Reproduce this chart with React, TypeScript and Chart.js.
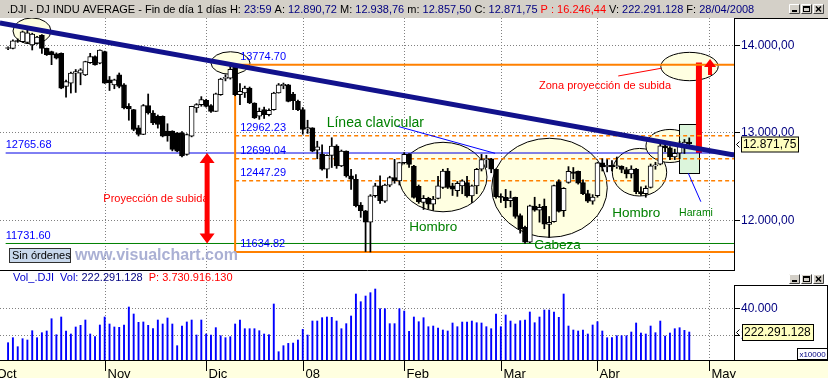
import React, { useEffect, useRef } from "react";
import { Chart, registerables } from "chart.js";

Chart.register(...registerables);

// ---------------- layout (pixels) ----------------
const W = 828;
const H = 378;
const AXIS_X = 734;
const TITLE_H = 18;
const PRICE_BOTTOM = 270;
const VOL_BOX_TOP = 285;
const PLOT_BOTTOM = 360;

// ---------------- scales ----------------
// x value = trading-day index (0 = 1 Nov 2007)
const FIRST_DAY = -20; // 4 Oct 2007
const X_MIN = -21.67;
const X_MAX = 130.26;
const PRICE_MIN = 10400;
const PRICE_MAX = 14308.57;
const VOL_MIN = 1273;
const VOL_MAX = 257450;

// ---------------- data: DJI daily, 4 Oct 2007 .. 28 Apr 2008 ----------------
const opens = [
  13960, 13962, 14045, 14038, 14030, 14000, 14020, 14110, 13962, 13924, 13898, 13905, 13526, 13564, 13678, 13678, 13659, 13799, 13867, 13792,
  13924, 13602, 13545, 13659, 13545, 13299, 13261, 13053, 12977, 13307, 13223, 13186, 13186, 13015, 13015, 12996, 12996, 12750, 12958, 13280, 13318,
  13367, 13307, 13242, 13432, 13618, 13621, 13754, 13432, 13451, 13508, 13337, 13186, 13261, 13205, 13261, 13451, 13535, 13545, 13440, 13356,
  13261, 13040, 13053, 12799, 12750, 12580, 12739, 12845, 12617, 12788, 12504, 12466, 12170, 12106, 11974, 12277, 12390, 12216, 12398, 12485, 12447,
  12655, 12750, 12617, 12385, 12201, 12248, 12182, 12246, 12371, 12560, 12390, 12335, 12390, 12428, 12276, 12390, 12580, 12690, 12700, 12580,
  12266, 12258, 12220, 12258, 12050, 11917, 11746, 12160, 12111, 12156, 11950, 11981, 12440, 12106, 12430, 12550, 12555, 12428, 12302, 12216,
  12277, 12654, 12608, 12626, 12610, 12612, 12577, 12527, 12581, 12325, 12302, 12371, 12619, 12637, 12849, 12825, 12720, 12763, 12848, 12890.72,
];
const highs = [
  13978, 14060, 14070, 14160, 14172, 14135, 14100, 14118, 13965, 13930, 13910, 13910, 13600, 13690, 13720, 13730, 13815, 13905, 13875, 13945,
  13930, 13640, 13610, 13680, 13560, 13330, 13265, 13080, 13320, 13440, 13250, 13200, 13190, 13100, 13020, 13000, 13010, 12985, 13300, 13330, 13410,
  13380, 13320, 13450, 13620, 13660, 13760, 13774.7, 13560, 13530, 13520, 13340, 13280, 13290, 13270, 13460, 13560, 13565, 13550, 13460, 13370,
  13285, 13140, 13055, 12900, 12860, 12745, 12940, 12860, 12800, 12790, 12580, 12520, 12200, 12110, 12290, 12420, 12504, 12410, 12500, 12693, 12660,
  12770, 12760, 12625, 12400, 12280, 12260, 12270, 12500, 12580, 12590, 12420, 12440, 12460, 12500, 12400, 12590, 12750, 12740, 12705, 12585,
  12300, 12350, 12330, 12262, 12070, 11930, 12170, 12260, 12180, 12240, 12040, 12400, 12460, 12370, 12610, 12600, 12560, 12460, 12340, 12290,
  12660, 12700, 12690, 12680, 12720, 12620, 12600, 12620, 12590, 12380, 12390, 12640, 12660, 12870, 12860, 12840, 12810, 12900, 12920, 12938.76,
];
const lows = [
  13948, 13955, 14030, 14030, 14015, 13943, 14010, 13905, 13880, 13775, 13840, 13500, 13405, 13451, 13458, 13545, 13650, 13790, 13770, 13785,
  13560, 13480, 13500, 13510, 13270, 13140, 13020, 12960, 12975, 13210, 13090, 13050, 12950, 12900, 12790, 12780, 12720, 12740, 12950, 13230, 13300,
  13290, 13230, 13240, 13425, 13590, 13610, 13420, 13318, 13400, 13330, 13160, 13150, 13160, 13190, 13255, 13450, 13500, 13350, 13260, 13250,
  12980, 12990, 12780, 12700, 12570, 12480, 12600, 12590, 12610, 12490, 12350, 12150, 12030, 11640, 11634.82, 12260, 12190, 12200, 12380, 12420, 12400,
  12640, 12600, 12250, 12190, 12120, 12130, 12110, 12240, 12360, 12360, 12280, 12270, 12300, 12260, 12200, 12300, 12560, 12600, 12540, 12250,
  12200, 12140, 12150, 12020, 11850, 11731.6, 11740, 12100, 11975, 11900, 11800, 11975, 12090, 12040, 12420, 12470, 12410, 12290, 12200, 12180,
  12260, 12560, 12550, 12560, 12590, 12540, 12480, 12480, 12300, 12280, 12260, 12365, 12580, 12630, 12780, 12690, 12690, 12700, 12760, 12857.5,
];
const closes = [
  13965, 14049, 14040, 14151, 14140, 14125, 14090, 13962, 13890, 13888, 13850, 13507, 13583, 13678, 13697, 13716, 13811, 13867, 13773, 13943,
  13564, 13570, 13602, 13526, 13280, 13269, 13034, 12977, 13307, 13223, 13110, 13091, 12958, 12960, 12807, 12788, 12731, 12977, 13299, 13318, 13375,
  13299, 13242, 13443, 13610, 13625, 13723, 13432, 13470, 13508, 13337, 13167, 13242, 13205, 13254, 13451, 13545, 13550, 13356, 13365, 13261,
  13034, 13057, 12788, 12837, 12580, 12739, 12845, 12617, 12788, 12504, 12466, 12163, 12106, 11974, 12277, 12390, 12220, 12398, 12485, 12447, 12655,
  12750, 12636, 12258, 12210, 12248, 12182, 12240, 12390, 12560, 12371, 12352, 12420, 12447, 12276, 12390, 12580, 12690, 12700, 12580, 12266,
  12258, 12220, 12254, 12040, 11898, 11746, 12163, 12111, 12146, 11951, 11972, 12392, 12099, 12361, 12555, 12533, 12422, 12302, 12216, 12263,
  12654, 12608, 12626, 12610, 12612, 12577, 12527, 12581, 12325, 12302, 12362, 12619, 12620, 12849, 12825, 12720, 12763, 12848, 12891, 12871.75,
];
// volume in units of 10 000 shares
const volumes = [
  14230, 17980, 11240, 17230, 16250, 23220, 17980, 21720, 23000, 32200, 20220, 33480, 23000, 20750, 26000, 27260, 31230, 20750, 18730, 27490,
  33480, 28240, 26000, 25750, 27490, 40970, 35730, 29510, 29760, 27260, 24720, 31230, 28240, 32730, 28240, 11980, 26760, 29760, 31230, 20000, 31230,
  20750, 20000, 25500, 19480, 17980, 18730, 28240, 31230, 24720, 24720, 24720, 23220, 20750, 20220, 43220, 7490, 11980, 13730, 13980, 16250,
  24220, 20000, 30480, 30480, 32980, 33480, 33230, 30480, 24720, 28490, 34230, 50700, 44940, 49200, 51700, 54440, 39700, 39700, 28490, 28490, 39700, 37950, 22720, 33480,
  29960, 32960, 26220, 26720, 25240, 23740, 23000, 28990, 26220, 29710, 29710, 30460, 29210, 28990, 26220, 24720, 35730, 26220, 35000, 30460,
  28240, 30710, 31210, 37230, 29210, 33480, 38730, 38730, 37230, 33230, 50700, 26720, 23740, 23000, 23740, 20750, 27490, 29960, 23000, 17980,
  17980, 19480, 19480, 19480, 22230, 28990, 21480, 20750, 26720, 21730, 30460, 19230, 21480, 24720, 25470, 23470, 22229.1128,
];

const monthLabels = ["Oct", "Nov", "Dic", "08", "Feb", "Mar", "Abr", "May"];
const monthTickDays = [-23, 0, 21, 41, 62, 82, 102, 125];
const priceTicks = [12000, 13000, 14000];
const volumeTicks = [20000, 40000];

// drawn study lines (day index, price)
const fibStartDay = 27;
const fibLevels = [13774.7, 12962.23, 12699.04, 12447.29, 11634.82];
const fibDashed = [false, true, true, true, false];
const supportStartDay = -20.5;
const supportLevels = [12765.68, 11731.6];
const supportColors = ["#0000e6", "#008000"];
const trendline = [{ x: -21.7, y: 14251 }, { x: 130.3, y: 12743 }];
const necklinePointer = [{ x: 60.44, y: 13074 }, { x: 80.8, y: 12762 }];
const haramiPointer = [{ x: 120.8, y: 12534 }, { x: 123.4, y: 12209 }];
const zonaPointer = [{ x: 106.3, y: 13646 }, { x: 115.2, y: 13734 }];

const ellipses = [
  { day: -15.05, price: 14160, rDays: 3.93, rPrice: 149 },
  { day: 26.04, price: 13794, rDays: 4.04, rPrice: 129 },
  { day: 70.03, price: 12491, rDays: 9.1, rPrice: 397 },
  { day: 92.07, price: 12368, rDays: 11.96, rPrice: 566 },
  { day: 110.7, price: 12546, rDays: 5.63, rPrice: 272 },
  { day: 117.0, price: 12846, rDays: 4.97, rPrice: 189 },
  { day: 121.05, price: 13754, rDays: 5.94, rPrice: 162 },
];
const haramiBox = { day0: 118.9, day1: 123.05, top: 13094, bottom: 12534 };
const projectionArrow = { day: 21.2, from: 11731.6, to: 12765.68 };
const targetBar = { day: 123.0, from: 12765.68, to: 13799.76 };
const targetArrow = { day: 125.3, from: 13657, to: 13840 };

const notes = [
  { text: "Línea clavicular", day: 45.95, price: 13109, color: "#008000", size: 14 },
  { text: "Hombro", day: 63.05, price: 11920, color: "#008000", size: 13.5 },
  { text: "Hombro", day: 105.07, price: 12080, color: "#008000", size: 13.5 },
  { text: "Cabeza", day: 88.93, price: 11706, color: "#008000", size: 13.5 },
  { text: "Harami", day: 118.9, price: 12080, color: "#008000", size: 10.5 },
  { text: "Proyección de subida", day: -0.28, price: 12240, color: "#ff0000", size: 11 },
  { text: "Zona proyección de subida", day: 89.9, price: 13531, color: "#ff0000", size: 11 },
];

const FONT = "'Liberation Sans', Arial, Helvetica, sans-serif";
const NAVY = "#000080";
const RED = "#ff0000";
const INK = "#000000";

function fmtNum(v: number, dec: number): string {
  const s = v.toFixed(dec);
  const [i, f] = s.split(".");
  const g = i.replace(/\B(?=(\d{3})+(?!\d))/g, ".");
  return f ? `${g},${f}` : g;
}

const days = opens.map((_, k) => FIRST_DAY + k);
const last = opens.length - 1;

function seg(ctx: any, x1: number, y1: number, x2: number, y2: number) {
  ctx.beginPath();
  ctx.moveTo(x1, y1);
  ctx.lineTo(x2, y2);
  ctx.stroke();
}
function txt(ctx: any, s: string, x: number, y: number, font: string, color: string, align = "left", baseline = "middle") {
  ctx.font = font;
  ctx.fillStyle = color;
  ctx.textAlign = align;
  ctx.textBaseline = baseline;
  ctx.fillText(s, x, y);
}
function arrowPath(ctx: any, x: number, yTip: number, yTail: number, shaft: number, headW: number, headL: number, both: boolean) {
  const s = shaft / 2, h = headW / 2;
  ctx.beginPath();
  ctx.moveTo(x, yTip);
  ctx.lineTo(x + h, yTip + headL);
  ctx.lineTo(x + s, yTip + headL);
  if (both) {
    ctx.lineTo(x + s, yTail - headL);
    ctx.lineTo(x + h, yTail - headL);
    ctx.lineTo(x, yTail);
    ctx.lineTo(x - h, yTail - headL);
    ctx.lineTo(x - s, yTail - headL);
  } else {
    ctx.lineTo(x + s, yTail);
    ctx.lineTo(x - s, yTail);
  }
  ctx.lineTo(x - s, yTip + headL);
  ctx.lineTo(x - h, yTip + headL);
  ctx.closePath();
  ctx.fill();
}
function winBtn(ctx: any, x: number, y: number, kind: string) {
  const w = 11, h = 10;
  ctx.fillStyle = "#d4d0c8";
  ctx.fillRect(x, y, w, h);
  ctx.lineWidth = 1;
  ctx.strokeStyle = "#ffffff";
  ctx.beginPath(); ctx.moveTo(x + 0.5, y + h - 0.5); ctx.lineTo(x + 0.5, y + 0.5); ctx.lineTo(x + w - 0.5, y + 0.5); ctx.stroke();
  ctx.strokeStyle = "#404040";
  ctx.beginPath(); ctx.moveTo(x + w - 0.5, y + 0.5); ctx.lineTo(x + w - 0.5, y + h - 0.5); ctx.lineTo(x + 0.5, y + h - 0.5); ctx.stroke();
  ctx.fillStyle = "#000";
  ctx.strokeStyle = "#000";
  if (kind === "min") ctx.fillRect(x + 3, y + h - 4, 5, 2);
  if (kind === "max") { ctx.strokeRect(x + 2.5, y + 2.5, 6, 5); ctx.fillRect(x + 2, y + 2, 7, 2); }
  if (kind === "close") {
    ctx.lineWidth = 1.5;
    seg(ctx, x + 3, y + 2.5, x + 8, y + 7.5);
    seg(ctx, x + 8, y + 2.5, x + 3, y + 7.5);
    ctx.lineWidth = 1;
  }
}

const decorPlugin = {
  id: "decor",
  beforeDatasetsDraw(chart: any) {
    const ctx = chart.ctx;
    const X = chart.scales.x, Y = chart.scales.y, V = chart.scales.yv;
    const px = (d: number) => X.getPixelForValue(d);
    const py = (p: number) => Y.getPixelForValue(p);
    const pv = (v: number) => V.getPixelForValue(v);
    ctx.save();
    ctx.fillStyle = "#ffffff";
    ctx.fillRect(0, 0, W, H);

    // price panel
    ctx.save();
    ctx.beginPath();
    ctx.rect(0, TITLE_H, AXIS_X, PRICE_BOTTOM - TITLE_H);
    ctx.clip();
    ctx.strokeStyle = "#808080";
    ctx.lineWidth = 1;
    ctx.setLineDash([1, 2]);
    for (const d of monthTickDays) {
      const x = Math.round(px(d)) + 0.5;
      seg(ctx, x, TITLE_H, x, PRICE_BOTTOM);
    }
    for (const p of priceTicks) {
      const y = Math.round(py(p)) + 0.5;
      seg(ctx, 0, y, AXIS_X, y);
    }
    ctx.setLineDash([]);
    for (const e of ellipses) {
      const cx = px(e.day), cy = py(e.price);
      const rx = px(e.day + e.rDays) - cx;
      const ry = py(e.price - e.rPrice) - cy;
      ctx.beginPath();
      ctx.ellipse(cx, cy, rx, ry, 0, 0, Math.PI * 2);
      ctx.fillStyle = "rgb(255,255,225)";
      ctx.fill();
      ctx.strokeStyle = "#000";
      ctx.lineWidth = 1;
      ctx.stroke();
    }
    {
      const x0 = Math.round(px(haramiBox.day0)) + 0.5, x1 = Math.round(px(haramiBox.day1)) + 0.5;
      const y0 = Math.round(py(haramiBox.top)) + 0.5, y1 = Math.round(py(haramiBox.bottom)) + 0.5;
      ctx.fillStyle = "#dcf5dc";
      ctx.fillRect(x0, y0, x1 - x0, y1 - y0);
      ctx.strokeStyle = "#000";
      ctx.strokeRect(x0, y0, x1 - x0, y1 - y0);
    }
    {
      const x = px(targetBar.day);
      const yt = py(targetBar.to), yb = py(targetBar.from);
      ctx.fillStyle = RED;
      ctx.fillRect(x - 3, yt, 6, yb - yt);
    }
    ctx.restore();

    // volume panel grid
    ctx.save();
    ctx.beginPath();
    ctx.rect(0, PRICE_BOTTOM, AXIS_X, PLOT_BOTTOM - PRICE_BOTTOM);
    ctx.clip();
    ctx.strokeStyle = "#808080";
    ctx.lineWidth = 1;
    ctx.setLineDash([1, 2]);
    for (const d of monthTickDays) {
      const x = Math.round(px(d)) + 0.5;
      seg(ctx, x, PRICE_BOTTOM, x, PLOT_BOTTOM);
    }
    for (const v of volumeTicks) {
      const y = Math.round(pv(v)) + 0.5;
      seg(ctx, 0, y, AXIS_X, y);
    }
    ctx.restore();
    ctx.restore();
  },
  afterDatasetsDraw(chart: any) {
    const ctx = chart.ctx;
    const X = chart.scales.x, Y = chart.scales.y;
    const px = (d: number) => X.getPixelForValue(d);
    const py = (p: number) => Y.getPixelForValue(p);
    ctx.save();
    ctx.beginPath();
    ctx.rect(0, TITLE_H, AXIS_X, PRICE_BOTTOM - TITLE_H);
    ctx.clip();
    ctx.fillStyle = RED;
    arrowPath(ctx, px(projectionArrow.day), py(projectionArrow.to), py(projectionArrow.from), 5, 15, 10, true);
    arrowPath(ctx, px(targetArrow.day), py(targetArrow.to), py(targetArrow.from), 4, 12, 8, false);

    for (let k = 0; k < fibLevels.length; k++) {
      txt(ctx, fibLevels[k].toFixed(2), px(fibStartDay) + 5, py(fibLevels[k]) - 8, `11px ${FONT}`, "#0000ff");
    }
    for (let k = 0; k < supportLevels.length; k++) {
      txt(ctx, supportLevels[k].toFixed(2), px(supportStartDay), py(supportLevels[k]) - 8, `11px ${FONT}`, "#0000ff");
    }
    for (const n of notes) {
      txt(ctx, n.text, px(n.day), py(n.price), `${n.size}px ${FONT}`, n.color);
    }
    ctx.restore();
  },
  afterDraw(chart: any) {
    const ctx = chart.ctx;
    const X = chart.scales.x, Y = chart.scales.y, V = chart.scales.yv;
    const px = (d: number) => X.getPixelForValue(d);
    const py = (p: number) => Y.getPixelForValue(p);
    const pv = (v: number) => V.getPixelForValue(v);
    ctx.save();
    ctx.lineWidth = 1;

    // "Sin órdenes" button and watermark
    ctx.fillStyle = "#c8d8ec";
    ctx.fillRect(9.5, 248.5, 61, 14);
    ctx.strokeStyle = "#303030";
    ctx.strokeRect(9.5, 248.5, 61, 14);
    txt(ctx, "Sin órdenes", 12, 256, `11px ${FONT}`, "#000");
    txt(ctx, "www.visualchart.com", 75, 259.5, `bold 16px ${FONT}`, "#aab0d4", "left", "alphabetic");

    // title bar
    ctx.fillStyle = "#d4d0c8";
    ctx.fillRect(0, 0, W, TITLE_H);
    const titleParts: [string, string][] = [
      [".DJI - DJ INDU AVERAGE - Fin de día 1 días ", INK],
      ["H: ", INK], ["23:59", NAVY],
      [" A: ", INK], [fmtNum(opens[last], 2), NAVY],
      [" M: ", INK], [fmtNum(highs[last], 2), NAVY],
      [" m: ", INK], [fmtNum(lows[last], 2), NAVY],
      [" C: ", INK], [fmtNum(closes[last], 2), NAVY],
      [" P : 16.246,44", RED],
      [" V: ", INK], [fmtNum(Math.round(volumes[last] * 10000), 0), NAVY],
      [" F: ", INK], ["28/04/2008", NAVY],
    ];
    let tx = 7;
    ctx.font = `11px ${FONT}`;
    for (const [s, c] of titleParts) {
      txt(ctx, s, tx, 9.5, `11px ${FONT}`, c);
      tx += ctx.measureText(s).width;
    }
    winBtn(ctx, 789, 4, "min");
    winBtn(ctx, 801, 4, "max");
    winBtn(ctx, 813, 4, "close");

    // price axis panel
    ctx.fillStyle = "#fff";
    ctx.fillRect(AXIS_X, TITLE_H, W - AXIS_X, PLOT_BOTTOM - TITLE_H);
    ctx.strokeStyle = "#000";
    seg(ctx, AXIS_X + 0.5, TITLE_H, AXIS_X + 0.5, PRICE_BOTTOM);
    seg(ctx, AXIS_X, TITLE_H + 0.5, W, TITLE_H + 0.5);
    seg(ctx, 0, PRICE_BOTTOM + 0.5, AXIS_X + 1, PRICE_BOTTOM + 0.5);
    for (const p of priceTicks) {
      const y = Math.round(py(p)) + 0.5;
      seg(ctx, AXIS_X, y, AXIS_X + 6, y);
      txt(ctx, fmtNum(p, 2), AXIS_X + 7, y, `12px ${FONT}`, NAVY);
    }
    {
      const y = Math.round(py(closes[last])) + 0.5;
      ctx.fillStyle = "#ffffc0";
      ctx.fillRect(741.5, y - 7.5, 57, 15);
      ctx.strokeStyle = "#000";
      ctx.strokeRect(741.5, y - 7.5, 57, 15);
      txt(ctx, fmtNum(closes[last], 2), 743, y + 0.5, `12px ${FONT}`, "#000");
      seg(ctx, 739.5, y - 3, 736.5, y);
      seg(ctx, 736.5, y, 739.5, y + 3);
    }

    // volume subwindow
    winBtn(ctx, 789, 274, "min");
    winBtn(ctx, 801, 274, "max");
    winBtn(ctx, 813, 274, "close");
    ctx.strokeStyle = "#000";
    ctx.strokeRect(AXIS_X + 0.5, VOL_BOX_TOP + 0.5, W - AXIS_X - 1, PLOT_BOTTOM - VOL_BOX_TOP);
    for (const v of volumeTicks) {
      const y = Math.round(pv(v)) + 0.5;
      seg(ctx, AXIS_X, y, AXIS_X + 6, y);
      txt(ctx, fmtNum(v, 0), AXIS_X + 7, y, `12px ${FONT}`, NAVY);
    }
    {
      const y = Math.round(pv(volumes[last])) + 0.5;
      ctx.fillStyle = "#ffffc0";
      ctx.fillRect(742.5, y - 8, 71, 16);
      ctx.strokeStyle = "#000";
      ctx.strokeRect(742.5, y - 8, 71, 16);
      txt(ctx, fmtNum(Math.round(volumes[last] * 10000), 0), 744, y + 0.5, `12px ${FONT}`, "#000");
      seg(ctx, 739.5, y - 3, 736.5, y);
      seg(ctx, 736.5, y, 739.5, y + 3);
    }
    ctx.fillStyle = "#fff";
    ctx.fillRect(797.5, 348.5, 30, 11);
    ctx.strokeStyle = "#000";
    ctx.strokeRect(797.5, 348.5, 30, 11);
    txt(ctx, "x10000", 812.5, 354.5, `8px ${FONT}`, NAVY, "center");

    // volume header
    let vx = 13;
    const volParts: [string, string][] = [
      ["Vol_.DJI  Vol: ", "#0000cc"],
      [fmtNum(Math.round(volumes[last] * 10000), 0), NAVY],
      ["  P: 3.730.916.130", RED],
    ];
    ctx.font = `11px ${FONT}`;
    for (const [s, c] of volParts) {
      txt(ctx, s, vx, 277.5, `11px ${FONT}`, c);
      vx += ctx.measureText(s).width;
    }

    // time axis
    ctx.fillStyle = "#ffffe0";
    ctx.fillRect(0, PLOT_BOTTOM, W, H - PLOT_BOTTOM);
    ctx.strokeStyle = "#000";
    seg(ctx, 0, PLOT_BOTTOM + 0.5, W, PLOT_BOTTOM + 0.5);
    for (let k = 0; k < monthTickDays.length; k++) {
      const x = Math.round(px(monthTickDays[k])) + 0.5;
      seg(ctx, x, PLOT_BOTTOM, x, PLOT_BOTTOM + 11);
      txt(ctx, monthLabels[k], x + 2, 377.5, `13px ${FONT}`, "#000", "left", "alphabetic");
    }
    ctx.restore();
  },
};

function lineDs(pts: any[], color: string, width: number, order: number, dash: number[] = []) {
  return {
    type: "line",
    data: pts,
    borderColor: color,
    borderWidth: width,
    borderDash: dash,
    borderCapStyle: "butt",
    pointRadius: 0,
    pointHoverRadius: 0,
    fill: false,
    tension: 0,
    order,
    xAxisID: "x",
    yAxisID: "y",
  };
}

function buildDatasets() {
  const ds: any[] = [];
  ds.push(lineDs(trendline, "#12128c", 5, 1));
  ds.push(lineDs(necklinePointer, "#0000ff", 1, 2));
  ds.push(lineDs(haramiPointer, "#0000ff", 1, 2));
  ds.push(lineDs(zonaPointer, "#ff0000", 1, 2));
  ds.push({
    type: "bar",
    data: days.map((d, k) => ({ x: d, y: [opens[k], closes[k]] })),
    backgroundColor: days.map((_, k) => (closes[k] >= opens[k] ? "#ffffff" : "#000000")),
    borderColor: "#000000",
    borderWidth: 1,
    borderSkipped: false,
    barThickness: 5,
    minBarLength: 1,
    grouped: false,
    order: 3,
    yAxisID: "y",
  });
  ds.push({
    type: "bar",
    data: days.map((d, k) => ({ x: d, y: [lows[k], highs[k]] })),
    backgroundColor: "#000000",
    borderWidth: 0,
    barThickness: 1.1,
    grouped: false,
    order: 4,
    yAxisID: "y",
  });
  ds.push({
    type: "bar",
    data: days.map((d, k) => ({ x: d, y: volumes[k] })),
    backgroundColor: "#0000ff",
    borderWidth: 0,
    barThickness: 1.25,
    grouped: false,
    order: 5,
    yAxisID: "yv",
  });
  for (let k = 0; k < fibLevels.length; k++) {
    ds.push(lineDs([{ x: fibStartDay, y: fibLevels[k] }, { x: X_MAX, y: fibLevels[k] }], "#ff8000", fibDashed[k] ? 1.5 : 2, 6, fibDashed[k] ? [4, 3] : []));
  }
  ds.push(lineDs([{ x: fibStartDay, y: fibLevels[0] }, { x: fibStartDay, y: fibLevels[fibLevels.length - 1] }], "#ff8000", 2, 6));
  for (let k = 0; k < supportLevels.length; k++) {
    ds.push(lineDs([{ x: supportStartDay, y: supportLevels[k] }, { x: X_MAX, y: supportLevels[k] }], supportColors[k], 1, 6));
  }
  return ds;
}

export default function App() {
  const ref = useRef<HTMLCanvasElement | null>(null);
  useEffect(() => {
    const canvas = ref.current;
    if (!canvas) return;
    const config: any = {
      type: "bar",
      data: { datasets: buildDatasets() },
      options: {
        animation: false,
        responsive: false,
        maintainAspectRatio: false,
        events: [],
        layout: { padding: { left: 0, right: W - AXIS_X, top: TITLE_H, bottom: H - PLOT_BOTTOM } },
        plugins: { legend: { display: false }, tooltip: { enabled: false } },
        scales: {
          x: { type: "linear", min: X_MIN, max: X_MAX, offset: false, display: false },
          y: { type: "linear", min: PRICE_MIN, max: PRICE_MAX, display: false },
          yv: { type: "linear", min: VOL_MIN, max: VOL_MAX, display: false },
        },
      },
      plugins: [decorPlugin],
    };
    const chart = new Chart(canvas, config);
    return () => chart.destroy();
  }, []);
  return (
    <div style={{ position: "absolute", left: 0, top: 0, width: W, height: H, background: "#fff" }}>
      <canvas ref={ref} width={W} height={H} style={{ display: "block", width: W, height: H }} />
    </div>
  );
}
